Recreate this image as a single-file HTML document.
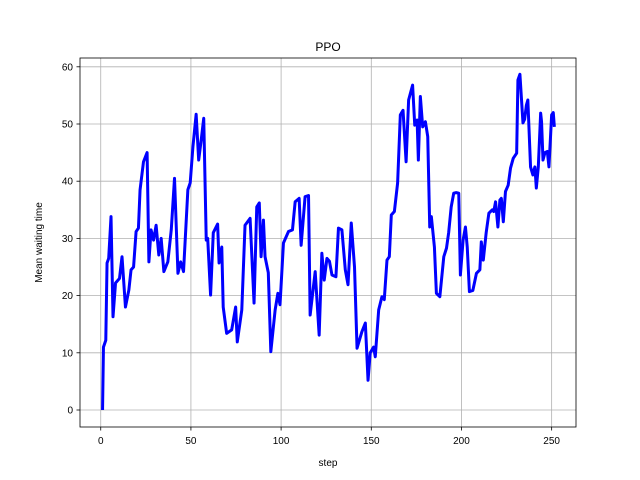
<!DOCTYPE html>
<html><head><meta charset="utf-8"><style>
body{margin:0;background:#fff;}
svg{display:block;font-family:"Liberation Sans","DejaVu Sans",sans-serif;}
</style></head><body>
<svg id="chart" width="640" height="480"></svg>
<script>
const steps=[1,1.5,2.8,3.5,4.4,5.7,6.8,8.2,10.4,11.8,13.7,15.6,16.8,18.2,19.6,20.9,21.8,23.7,25.7,26.7,27.9,29.3,30.7,32.2,33.5,35,37.2,39.1,40.9,42.8,44.3,45.9,48.3,49.6,51.1,52.9,54.3,55.7,57.1,58.5,59.3,60.9,62.4,64.8,65.6,67.1,67.9,69.8,72.6,74.8,75.7,78.2,80,82.8,85,86.5,87.9,88.9,90.2,91.1,92.9,94.3,96.7,98.2,99.4,101.3,104.1,106.3,107.8,110,111.1,113.3,115.2,116.1,118.9,121.1,122.6,123.9,125.4,126.8,128.2,130.4,131.8,133.7,135.6,137.1,138.9,140.7,142.1,144.8,146.7,148.2,149.4,151.3,152.2,154.1,155.9,157.2,158.7,160,161.1,162.8,164.6,166.1,167.6,169.3,170.7,172.9,174.1,175.4,176.1,177.2,178.5,180,181.3,182.4,183.3,185,186.1,188,190.2,191.7,192.9,194.3,195.7,197.1,198.5,199.4,200.9,202.2,203.2,204.4,206.3,208.3,210.2,211,212.1,213.7,215.2,217.1,217.9,218.9,220.2,221.3,222.1,223.2,224.4,225.9,227.2,228.7,230.6,231.3,232.4,234.1,235,236,236.8,238.3,239.6,240.7,241.5,242.6,243.9,244.4,245.2,246.3,247.6,248.5,250,250.9,251.5];
const yValues=[0,11,12.2,25.7,26.5,33.8,16.3,22.2,23,26.8,18,21,24.5,25,31.2,31.8,38.5,43.4,45,25.9,31.5,29.7,32.3,27.1,30,24.2,25.9,31.5,40.5,23.9,25.9,24.2,38.5,39.7,46,51.7,43.7,47.2,51,29.7,30,20.1,31,32.5,25.7,28.5,18,13.4,14,18,11.9,17.5,32.3,33.5,18.7,35.5,36.2,26.8,33.2,26.8,24,10.2,17.5,20.4,18.4,29.2,31.2,31.5,36.4,37,28.8,37.3,37.5,16.6,24.2,13.1,27.4,22.7,26.5,26,23.6,23.3,31.8,31.5,24.5,21.9,32.7,25,10.8,13.7,15.2,5.2,10,11,9.3,17.5,19.8,19.3,26.2,26.8,34.1,34.7,39.7,51.6,52.4,43.4,54.2,56.8,49.8,50.7,43.7,54.8,49.5,50.4,47.8,32,33.8,28.5,20.4,19.8,26.8,28.3,31,35.5,37.9,38,37.9,23.6,29.7,32,28.5,20.7,20.9,23.9,24.5,29.4,26.2,31,34.4,35,34.7,36.4,32,36.7,37,32.9,38.2,39.3,42.3,44,44.9,57.7,58.7,50.2,50.8,53.3,54.2,42.5,41.1,42.5,38.8,42.5,51.9,50.4,43.7,45,45.2,42.5,51.6,52,49.5];
const xTicks=[0,50,100,150,200,250];
const yTicks=[0,10,20,30,40,50,60];
const NS="http://www.w3.org/2000/svg";
const svg=document.getElementById('chart');
const L=80,T=58,R=576,B=427;
const sx=v=>L+(v+11.5)*(R-L)/275;
const sy=v=>410-v*5.72;
function mk(t,a){const e=document.createElementNS(NS,t);for(const k in a)e.setAttribute(k,a[k]);svg.appendChild(e);return e;}
xTicks.forEach(v=>{
  const g=mk('line',{x1:sx(v),x2:sx(v),y1:T,y2:B,stroke:'#b0b0b0','stroke-width':0.8});
  
  
  mk('line',{x1:sx(v),x2:sx(v),y1:B,y2:B+3.5,stroke:'#000','stroke-width':0.8});
  const t=mk('text',{x:sx(v),y:B+17,'text-anchor':'middle','font-size':10});t.textContent=v;
  
  
});
yTicks.forEach(v=>{
  const g=mk('line',{x1:L,x2:R,y1:sy(v),y2:sy(v),stroke:'#b0b0b0','stroke-width':0.8});
  
  
  mk('line',{x1:L-3.5,x2:L,y1:sy(v),y2:sy(v),stroke:'#000','stroke-width':0.8});
  const t=mk('text',{x:L-7,y:sy(v)+3.5,'text-anchor':'end','font-size':10});t.textContent=v;
  
  
});
const pts=yValues.map((v,i)=>sx(steps[i]).toFixed(2)+','+sy(v).toFixed(2)).join(' ');
const line=mk('polyline',{points:pts,fill:'none',stroke:'#0000ff','stroke-width':3,'stroke-linejoin':'round'});


const box=mk('rect',{x:L,y:T,width:R-L,height:B-T,fill:'none',stroke:'#000','stroke-width':0.8});


const title=mk('text',{x:(L+R)/2,y:T-7,'text-anchor':'middle','font-size':12});title.textContent='PPO';


const xl=mk('text',{x:(L+R)/2,y:466,'text-anchor':'middle','font-size':10});xl.textContent='step';


const yl=mk('text',{x:0,y:0,'text-anchor':'middle','font-size':10,transform:'translate(42,'+((T+B)/2)+') rotate(-90)'});yl.textContent='Mean waiting time';


</script>
</body></html>
